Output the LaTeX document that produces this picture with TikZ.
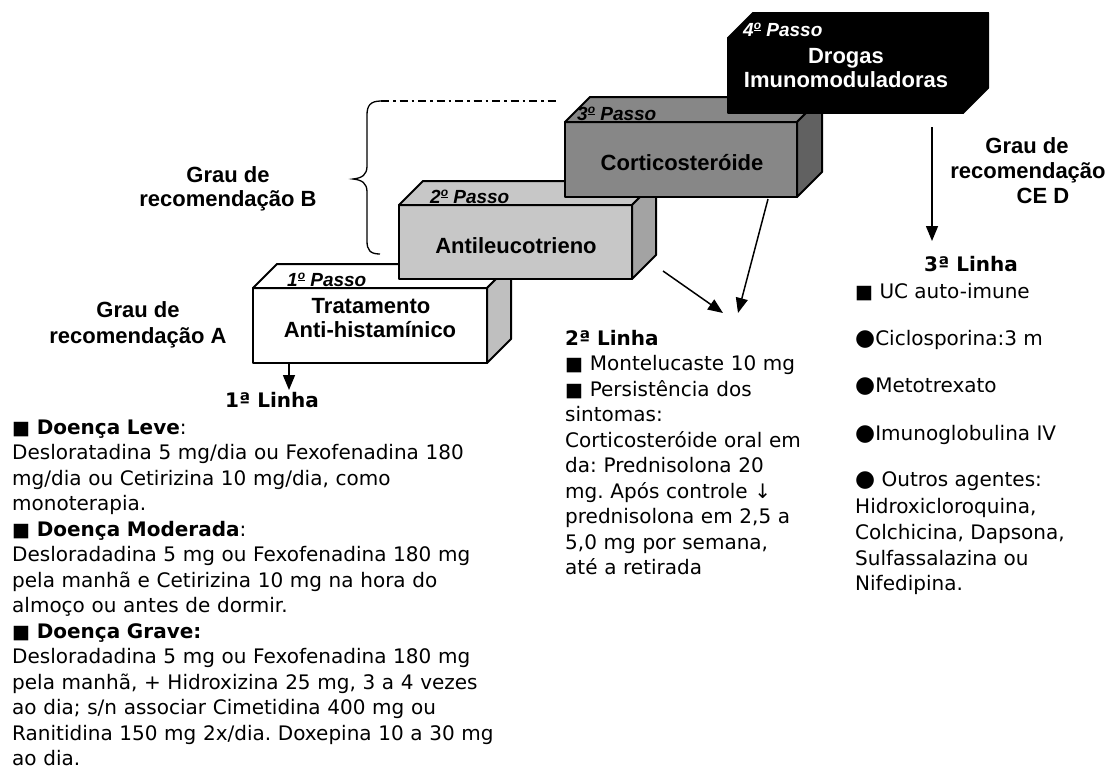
\documentclass[tikz,border=0pt]{standalone}
\usepackage{fontspec}
\setmainfont{DejaVu Sans}
\newfontfamily\arl{Liberation Sans}
\usetikzlibrary{arrows.meta}
\frenchspacing
\newcommand\mysq{{\fontsize{19}{19}\selectfont ■}}
\newcommand\mybul{{\fontsize{23}{23}\selectfont ●}}
\newcommand\ordo{\raisebox{0.36em}{\fontsize{12}{12}\selectfont\underline{o}}}
\begin{document}
\begin{tikzpicture}[x=1pt,y=-1pt,
 face/.style={draw=black, line width=2pt, line join=round, inner sep=0pt, outer sep=0pt},
 boxtext/.style={font=\arl\bfseries\fontsize{22}{24}\selectfont, anchor=base, inner sep=0pt},
 passo/.style={font=\arl\bfseries\itshape\fontsize{19}{22}\selectfont, anchor=base west, inner sep=0pt},
 grau/.style={font=\arl\bfseries\fontsize{22}{24}\selectfont, anchor=base, inner sep=0pt},
 body/.style={font=\fontsize{20}{25.5}\selectfont, anchor=base west, inner sep=0pt, align=left, text width=520pt},
 line/.style={font=\fontsize{20}{25.5}\selectfont, anchor=base west, inner sep=0pt},
 head/.style={font=\bfseries\fontsize{20}{24}\selectfont, anchor=base, inner sep=0pt},
 arr/.style={line width=1.5pt, -{Triangle[length=15pt,width=12pt]}},
]
\useasboundingbox (0,0) rectangle (1110,772);

% ---- box 1
\node[face, fill=white, minimum width=234pt, minimum height=75pt] (b1) at (370,325.5) {};
\draw[face, fill=white] (b1.north west) -- ++(24,-24) -- ++(234,0) -- (b1.north east) -- cycle;
\draw[face, fill=black!25] (b1.north east) -- ++(24,-24) -- ++(0,75) -- (b1.south east) -- cycle;
\node[boxtext] (t1a) at (371,313) {Tratamento};
\node[boxtext] (t1b) at (370,337) {Anti-histamínico};
\node[passo] (p1) at (287,286) {1\ordo{} Passo};

% ---- box 2
\node[face, fill=black!22, minimum width=233pt, minimum height=74pt] (b2) at (515.5,242) {};
\draw[face, fill=black!22] (b2.north west) -- ++(24,-24) -- ++(233,0) -- (b2.north east) -- cycle;
\draw[face, fill=black!36] (b2.north east) -- ++(24,-24) -- ++(0,74) -- (b2.south east) -- cycle;
\node[boxtext] (t2) at (516,253) {Antileucotrieno};
\node[passo] (p2) at (430,203) {2\ordo{} Passo};

% ---- box 3
\node[face, fill=black!47, minimum width=232pt, minimum height=75pt] (b3) at (681,159.5) {};
\draw[face, fill=black!47] (b3.north west) -- ++(25,-25) -- ++(232,0) -- (b3.north east) -- cycle;
\draw[face, fill=black!62] (b3.north east) -- ++(25,-25) -- ++(0,75) -- (b3.south east) -- cycle;
\node[boxtext] (t3) at (682,170) {Corticosteróide};
\node[passo] (p3) at (577,120) {3\ordo{} Passo};

% ---- box 4
\node[face, fill=black, minimum width=235pt, minimum height=75pt] (b4) at (845.5,75.5) {};
\draw[face, fill=black] (b4.north west) -- ++(25,-25) -- ++(235,0) -- (b4.north east) -- cycle;
\draw[face, fill=black] (b4.north east) -- ++(25,-25) -- ++(0,75) -- (b4.south east) -- cycle;
\node[boxtext, text=white] (t4a) at (846,63) {Drogas};
\node[boxtext, text=white] (t4b) at (846,87) {Imunomoduladoras};
\node[passo, text=white] (p4) at (743,36) {4\ordo{} Passo};

% ---- brace and dash-dot line
\coordinate (bt) at (381,101);
\coordinate (bb) at (380,254);
\coordinate (dd) at (558,101);
\draw[line width=1.4pt, dash pattern=on 8pt off 4pt on 2.5pt off 4pt] (bt) -- (dd);
\draw[line width=1.3pt] (bt) .. controls (370,101) and (367,106) .. (367,115) -- (367,166)
  .. controls (367,175) and (362,178) .. (353,179)
  .. controls (362,180) and (367,183) .. (367,192) -- (367,241)
  .. controls (367,250) and (370,254) .. (bb);

% ---- labels
\node[grau] (gb1) at (228,182) {Grau de};
\node[grau] (gb2) at (228,206) {recomendação B};
\node[grau] (ga1) at (138,317) {Grau de};
\node[grau] (ga2) at (138,343) {recomendação A};
\node[grau] (gd1) at (1027,153) {Grau de};
\node[grau] (gd2) at (1028,178) {recomendação};
\node[grau] (gd3) at (1043,203) {CE D};

% ---- arrows
\coordinate (a1s) at (289,364);
\coordinate (a1e) at (289,390);
\draw[arr] (a1s) -- (a1e);
\coordinate (a3s) at (932,127);
\coordinate (a3e) at (932,241);
\draw[arr] (a3s) -- (a3e);
\coordinate (a2s) at (663,271);
\coordinate (a2e) at (723,313);
\draw[arr] (a2s) -- (a2e);
\coordinate (a4s) at (768,199);
\coordinate (a4e) at (738,313);
\draw[arr] (a4s) -- (a4e);

% ---- 1a linha
\node[head] (h1) at (272,407) {1ª Linha};
\node[body] (txt1) at (12,434) {\mysq\textbf{ Doença Leve}:\\
Desloratadina 5 mg/dia ou Fexofenadina 180\\
mg/dia ou Cetirizina 10 mg/dia, como\\
monoterapia.\\
\mysq\textbf{ Doença Moderada}:\\
Desloradadina 5 mg ou Fexofenadina 180 mg\\
pela manhã e Cetirizina 10 mg na hora do\\
almoço ou antes de dormir.\\
\mysq\textbf{ Doença Grave:}\\
Desloradadina 5 mg ou Fexofenadina 180 mg\\
pela manhã, + Hidroxizina 25 mg, 3 a 4 vezes\\
ao dia; s/n associar Cimetidina 400 mg ou\\
Ranitidina 150 mg 2x/dia. Doxepina 10 a 30 mg\\
ao dia.};

% ---- 2a linha
\node[body] (txt2) at (565,345) {\textbf{2ª Linha}\\
\mysq{} Montelucaste 10 mg\\
\mysq{} Persistência dos\\
sintomas:\\
Corticosteróide oral em\\
da: Prednisolona 20\\
mg. Após controle ↓\\
prednisolona em 2,5 a\\
5,0 mg por semana,\\
até a retirada};

% ---- 3a linha
\node[head] (h3) at (971,271) {3ª Linha};
\node[line] (r1) at (855,298) {\mysq{} UC auto-imune};
\node[line] (r2) at (855,345) {\mybul Ciclosporina:3 m};
\node[line] (r3) at (855,392) {\mybul Metotrexato};
\node[line] (r4) at (855,440) {\mybul Imunoglobulina IV};
\node[line] (r5) at (855,486) {\mybul{} Outros agentes:};
\node[line] (r6) at (855,513) {Hidroxicloroquina,};
\node[line] (r7) at (855,539) {Colchicina, Dapsona,};
\node[line] (r8) at (855,565) {Sulfassalazina ou};
\node[line] (r9) at (855,590) {Nifedipina.};
\end{tikzpicture}
\end{document}
